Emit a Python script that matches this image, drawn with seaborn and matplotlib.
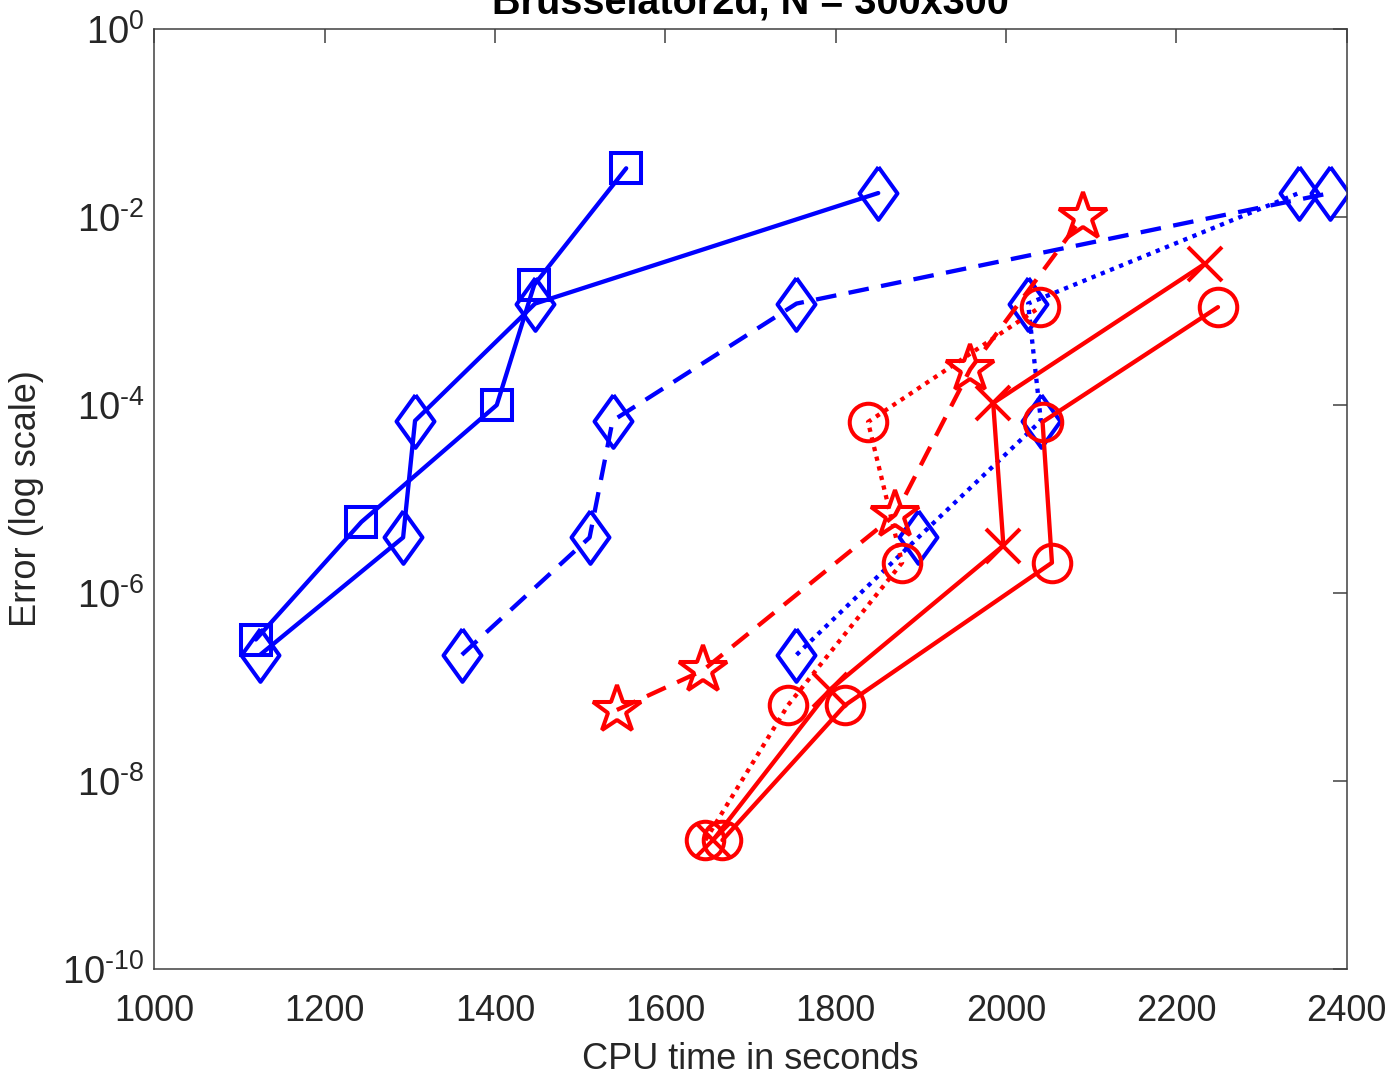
import numpy as np
import pandas as pd
import matplotlib
matplotlib.use("Agg")
import matplotlib.pyplot as plt
import seaborn as sns
from matplotlib.ticker import FixedLocator, NullLocator

sns.set_theme(style="white")
plt.rcParams['font.family'] = ['Liberation Sans', 'DejaVu Sans']
plt.rcParams['mathtext.fontset'] = 'custom'
plt.rcParams['mathtext.rm'] = 'Liberation Sans'
plt.rcParams['mathtext.it'] = 'Liberation Sans:italic'
plt.rcParams['mathtext.bf'] = 'Liberation Sans:bold'

# ---------------- data ----------------
blue_sq_x = [1119, 1243, 1402, 1446, 1554]
blue_sq_y = [3.2e-7, 5.7e-6, 1.0e-4, 1.9e-3, 3.3e-2]

blue_dia_solid_x = [1124, 1292, 1306, 1447, 1850]
blue_dia_solid_y = [2.2e-7, 3.9e-6, 6.8e-5, 1.2e-3, 1.8e-2]

blue_dia_dash_x = [1361, 1511, 1538, 1754, 2381]
blue_dia_dash_y = [2.2e-7, 3.9e-6, 6.8e-5, 1.2e-3, 1.8e-2]

blue_dia_dot_x = [1754, 1897, 2041, 2026, 2344]
blue_dia_dot_y = [2.2e-7, 3.9e-6, 6.8e-5, 1.2e-3, 1.8e-2]

red_x_solid_x = [1656, 1793, 1997, 1985, 2234]
red_x_solid_y = [2.35e-9, 9.3e-8, 3.2e-6, 1.05e-4, 3.2e-3]

red_o_solid_x = [1667, 1811, 2054, 2043, 2249]
red_o_solid_y = [2.35e-9, 6.4e-8, 2.1e-6, 6.6e-5, 1.1e-3]

red_o_dot_x = [1647, 1744, 1878, 1838, 2040]
red_o_dot_y = [2.35e-9, 6.4e-8, 2.1e-6, 6.6e-5, 1.1e-3]

red_star_dash_x = [1543, 1644, 1870, 1958, 2090]
red_star_dash_y = [5.7e-8, 1.5e-7, 6.8e-6, 2.4e-4, 1.0e-2]

title_text = "Brusselator2d, N = 300x300"
xlabel_text = "CPU time in seconds"
ylabel_text = "Error (log scale)"
xtick_vals = [1000, 1200, 1400, 1600, 1800, 2000, 2200, 2400]
ytick_exps = [-10, -8, -6, -4, -2, 0]

# ---------------- styles ----------------
BLUE = '#0000FF'
RED = '#FF0000'
diamond = [(0, 1), (0.72, 0), (0, -1), (-0.72, 0), (0, 1)]
DASH = (0, (4.8, 2.9))
DOT = (0, (1.0, 1.3))

specs = [
    (blue_sq_x, blue_sq_y, BLUE, '-', 's', 22),
    (blue_dia_solid_x, blue_dia_solid_y, BLUE, '-', diamond, 38),
    (blue_dia_dash_x, blue_dia_dash_y, BLUE, DASH, diamond, 38),
    (blue_dia_dot_x, blue_dia_dot_y, BLUE, DOT, diamond, 38),
    (red_x_solid_x, red_x_solid_y, RED, '-', 'x', 24),
    (red_o_solid_x, red_o_solid_y, RED, '-', 'o', 27),
    (red_o_dot_x, red_o_dot_y, RED, DOT, 'o', 27),
    (red_star_dash_x, red_star_dash_y, RED, DASH, '*', 36),
]

fig = plt.figure(figsize=(13.98, 10.8), dpi=100)
ax = fig.add_axes([0.1105, 0.1028, 0.8527, 0.8703])

for xs, ys, color, ls, marker, ms in specs:
    sns.lineplot(x=xs, y=ys, ax=ax, sort=False, estimator=None,
                 color=color, linewidth=3.1, marker=marker,
                 markersize=ms, markerfacecolor='none',
                 markeredgecolor=color, markeredgewidth=2.9)
    line = ax.lines[-1]
    line.set_linestyle(ls)
    line.set_dash_capstyle('butt')
    line.set_markerfacecolor('none')
    line.set_markeredgecolor(color)

ax.set_yscale('log')
ax.set_xlim(1000, 2400)
ax.set_ylim(1e-10, 1e0)

ax.xaxis.set_major_locator(FixedLocator(xtick_vals))
ax.set_xticklabels([str(v) for v in xtick_vals])
ax.yaxis.set_major_locator(FixedLocator([10.0 ** e for e in ytick_exps]))
ax.yaxis.set_minor_locator(NullLocator())
ax.set_yticklabels([r'$10^{\text{%d}}$' % e for e in ytick_exps])

ax.tick_params(axis='both', which='major', direction='in', length=10,
               width=1.1, color='#404040', labelcolor='#262626',
               labelsize=26, top=True, right=True)
ax.tick_params(axis='x', pad=18)
ax.tick_params(axis='y', pad=7, labelsize=27.5)

for sp in ax.spines.values():
    sp.set_visible(True)
    sp.set_color('#404040')
    sp.set_linewidth(1.1)

ax.set_title(title_text, fontsize=28.5, fontweight='bold', pad=11,
             color='#000000')
ax.set_xlabel(xlabel_text, fontsize=26, color='#262626')
ax.set_ylabel(ylabel_text, fontsize=26, color='#262626')
ax.xaxis.set_label_coords(0.5, -0.078)
ax.yaxis.set_label_coords(-0.093, 0.5)
ax.set_facecolor('white')
fig.patch.set_facecolor('white')

fig.savefig('out.png', dpi=100)
